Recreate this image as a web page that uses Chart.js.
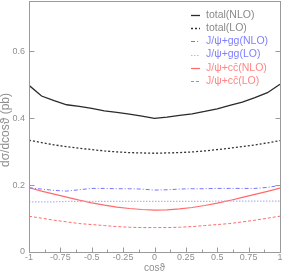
<!DOCTYPE html>
<html>
<head>
<meta charset="utf-8">
<script src="https://cdn.jsdelivr.net/npm/chart.js@4"></script>
<style>
  html, body { margin: 0; padding: 0; background: #fff; }
  #wrap { width: 282px; height: 272px; }
</style>
</head>
<body>
<div id="wrap"><canvas id="chart" width="282" height="272"></canvas></div>
<script>
"use strict";

// cos(theta) sampling points
var cosTheta = [-1, -0.9, -0.8, -0.7, -0.6, -0.5, -0.4, -0.3, -0.2, -0.1, 0,
                0.1, 0.2, 0.3, 0.4, 0.5, 0.6, 0.7, 0.8, 0.9, 1];

// dsigma/dcos(theta) in pb
var totalNLO = [0.498, 0.466, 0.452, 0.440, 0.435, 0.429, 0.422, 0.417, 0.412, 0.406, 0.399,
                0.403, 0.408, 0.413, 0.420, 0.428, 0.438, 0.448, 0.461, 0.476, 0.501];
var totalLO  = [0.334, 0.327, 0.320, 0.315, 0.310, 0.306, 0.302, 0.299, 0.297, 0.296, 0.295,
                0.296, 0.297, 0.299, 0.302, 0.306, 0.310, 0.315, 0.320, 0.326, 0.333];
var ggNLO    = [0.192, 0.188, 0.184, 0.182, 0.186, 0.190, 0.190, 0.189, 0.189, 0.188, 0.185,
                0.186, 0.188, 0.189, 0.189, 0.190, 0.190, 0.190, 0.190, 0.193, 0.199];
var ggLO     = [0.150, 0.150, 0.150, 0.151, 0.151, 0.151, 0.151, 0.151, 0.151, 0.151, 0.151,
                0.151, 0.151, 0.151, 0.151, 0.152, 0.152, 0.152, 0.152, 0.152, 0.152];
var ccNLO    = [0.192, 0.182, 0.173, 0.164, 0.155, 0.147, 0.140, 0.134, 0.130, 0.127, 0.125,
                0.126, 0.129, 0.133, 0.139, 0.146, 0.154, 0.163, 0.172, 0.181, 0.191];
var ccLO     = [0.107, 0.101, 0.095, 0.090, 0.085, 0.082, 0.079, 0.076, 0.074, 0.073, 0.073,
                0.073, 0.074, 0.076, 0.079, 0.082, 0.085, 0.090, 0.095, 0.101, 0.107];

var seriesNames = ["total(NLO)", "total(LO)", "J/\u03c8+gg(NLO)", "J/\u03c8+gg(LO)",
                   "J/\u03c8+c\u0063\u0304(NLO)", "J/\u03c8+c\u0063\u0304(LO)"];

// axis ticks
var xTicks = [-1, -0.75, -0.5, -0.25, 0, 0.25, 0.5, 0.75, 1];
var yTicks = [0, 0.2, 0.4, 0.6];

var FONT = "'Liberation Sans', Arial, sans-serif";
var AXIS_GREY = "#9a9a9a";

function toPoints(values) {
    return values.map(function (v, i) { return { x: cosTheta[i], y: v }; });
}

// frame, inward ticks, titles and legend
var decorations = {
    id: "decorations",
    afterDraw: function (chart) {
        var ctx = chart.ctx;
        var area = chart.chartArea;
        var xs = chart.scales.x;
        var ys = chart.scales.y;
        var L = Math.round(area.left) + 0.5, R = Math.round(area.right) + 0.5;
        var T = Math.round(area.top) + 0.5, B = Math.round(area.bottom) + 0.5;

        ctx.save();
        ctx.strokeStyle = AXIS_GREY;
        ctx.lineWidth = 1;
        ctx.setLineDash([]);
        ctx.strokeRect(L, T, R - L, B - T);

        ctx.beginPath();
        for (var i = 0; i < xTicks.length; i++) {
            var px = Math.round(xs.getPixelForValue(xTicks[i])) + 0.5;
            ctx.moveTo(px, B); ctx.lineTo(px, B - 5);
            if (i < xTicks.length - 1) {
                var mx = Math.round(xs.getPixelForValue((xTicks[i] + xTicks[i + 1]) / 2)) + 0.5;
                ctx.moveTo(mx, B); ctx.lineTo(mx, B - 3);
            }
        }
        yTicks.forEach(function (v) {
            var py = Math.round(ys.getPixelForValue(v)) + 0.5;
            ctx.moveTo(L, py); ctx.lineTo(L + 5, py);
            ctx.moveTo(R, py); ctx.lineTo(R - 5, py);
        });
        ctx.stroke();

        // axis titles
        ctx.fillStyle = "#8f8f8f";
        ctx.font = "10px " + FONT;
        ctx.textAlign = "center";
        ctx.textBaseline = "middle";
        ctx.fillText("cos\u03d1", xs.getPixelForValue(0), 268);
        ctx.save();
        ctx.translate(6, 130);
        ctx.rotate(-Math.PI / 2);
        ctx.font = "12px " + FONT;
        ctx.fillText("d\u03c3/dcos\u03d1 (pb)", 0, 0);
        ctx.restore();

        // legend
        ctx.textAlign = "left";
        ctx.font = "10.5px " + FONT;
        chart.data.datasets.forEach(function (ds, k) {
            var y = 15 + k * 13.2;
            ctx.beginPath();
            ctx.strokeStyle = ds.borderColor;
            ctx.lineWidth = ds.borderWidth;
            ctx.setLineDash(ds.borderDash || []);
            ctx.moveTo(191, Math.round(y) + 0.5);
            ctx.lineTo(200, Math.round(y) + 0.5);
            ctx.stroke();
            ctx.fillStyle = ds.legendText;
            ctx.fillText(ds.label, 206, y);
        });
        ctx.restore();
    }
};

var datasets = [
    { label: seriesNames[0], data: toPoints(totalNLO), borderColor: "#2a2a2a", borderWidth: 1.3, borderDash: [], legendText: "#8a8a8a" },
    { label: seriesNames[1], data: toPoints(totalLO), borderColor: "#333333", borderWidth: 1.3, borderDash: [2, 2], legendText: "#8a8a8a" },
    { label: seriesNames[2], data: toPoints(ggNLO), borderColor: "#7373ff", borderWidth: 1, borderDash: [4, 2, 1, 2], legendText: "#7f7fff" },
    { label: seriesNames[3], data: toPoints(ggLO), borderColor: "#b4b4ff", borderWidth: 1.2, borderDash: [1.5, 1.5], legendText: "#7f7fff" },
    { label: seriesNames[4], data: toPoints(ccNLO), borderColor: "#ff6a6a", borderWidth: 1.2, borderDash: [], legendText: "#ff8585" },
    { label: seriesNames[5], data: toPoints(ccLO), borderColor: "#ff6a6a", borderWidth: 1, borderDash: [3, 2], legendText: "#ff8585" }
];

new Chart(document.getElementById("chart").getContext("2d"), {
    type: "line",
    data: { datasets: datasets },
    plugins: [decorations],
    options: {
        responsive: false,
        animation: false,
        devicePixelRatio: 1,
        layout: { padding: { left: 0, right: 2, top: 1, bottom: 0 } },
        elements: { point: { radius: 0 }, line: { tension: 0, fill: false } },
        plugins: { legend: { display: false }, tooltip: { enabled: false } },
        scales: {
            x: {
                type: "linear",
                min: -1,
                max: 1,
                grid: { display: false, drawTicks: false },
                border: { display: false },
                afterBuildTicks: function (scale) {
                    scale.ticks = xTicks.map(function (v) { return { value: v }; });
                },
                afterFit: function (scale) {
                    scale.height = 20;
                    scale.paddingLeft = 0;
                    scale.paddingRight = 0;
                },
                ticks: {
                    padding: 0,
                    maxRotation: 0,
                    autoSkip: false,
                    color: "#8f8f8f",
                    font: { family: FONT, size: 9 },
                    callback: function (v) { return String(v); }
                }
            },
            y: {
                min: 0,
                max: 0.75,
                grid: { display: false, drawTicks: false },
                border: { display: false },
                afterBuildTicks: function (scale) {
                    scale.ticks = yTicks.map(function (v) { return { value: v }; });
                },
                afterFit: function (scale) {
                    scale.width = 29;
                    scale.paddingTop = 0;
                    scale.paddingBottom = 0;
                },
                ticks: {
                    padding: 4,
                    color: "#8f8f8f",
                    font: { family: FONT, size: 9 },
                    callback: function (v) { return String(v); }
                }
            }
        }
    }
});
</script>
</body>
</html>
